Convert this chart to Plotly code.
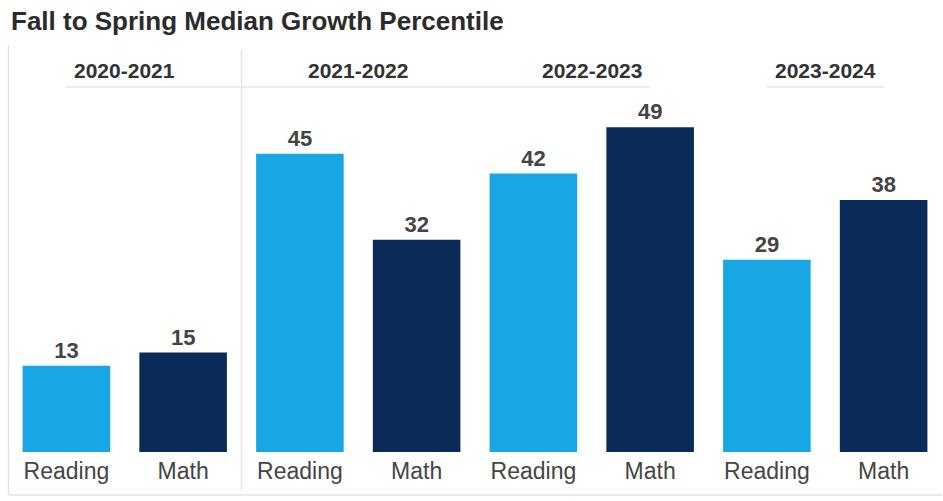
import plotly.graph_objects as go

years = ["2020-2021", "2021-2022", "2022-2023", "2023-2024"]
subjects = ["Reading", "Math"]
values = [13, 15, 45, 32, 42, 49, 29, 38]
colors_by_subject = {"Reading": "#18A6E4", "Math": "#0A2B58"}
title_text = "Fall to Spring Median Growth Percentile"

cats = [s for _ in years for s in subjects]
xs = list(range(len(cats)))
bar_colors = [colors_by_subject[s] for s in cats]

FONT = "Liberation Sans, Arial"

fig = go.Figure()
fig.add_trace(go.Bar(
    x=xs, y=values, marker=dict(color=bar_colors, line=dict(width=0)),
    width=0.75, text=["<b>%d</b>" % v for v in values], textposition="outside",
    textfont=dict(family=FONT, size=22, color="#444444"),
    cliponaxis=False, hoverinfo="skip", showlegend=False,
))

plot_left, plot_right, plot_top, plot_bottom = 7.5, 942.5, 100, 452
pw = plot_right - plot_left
ph = plot_bottom - plot_top

annotations = []
for i, yr in enumerate(years):
    annotations.append(dict(
        x=2 * i + 0.5, y=(plot_bottom - 70) / ph, xref="x", yref="paper", text="<b>%s</b>" % yr,
        showarrow=False, font=dict(family=FONT, size=21, color="#333333"),
        xanchor="center", yanchor="middle"))
annotations.append(dict(
    x=(9 - plot_left) / pw, y=(plot_bottom - 21) / ph, xref="paper", yref="paper",
    text="<b>%s</b>" % title_text,
    showarrow=False, font=dict(family=FONT, size=26, color="#2b2b2b"),
    xanchor="left", yanchor="middle"))

line_col = "#e2e2e2"
shapes = [
    dict(type="line", xref="paper", yref="paper", x0=(8 - plot_left) / pw, x1=(8 - plot_left) / pw,
         y0=(plot_bottom - 45) / ph, y1=(plot_bottom - 495) / ph, line=dict(color=line_col, width=1.5)),
    dict(type="line", xref="paper", yref="paper", x0=(8 - plot_left) / pw, x1=1,
         y0=(plot_bottom - 495) / ph, y1=(plot_bottom - 495) / ph, line=dict(color=line_col, width=1.5)),
    dict(type="line", xref="x", yref="paper", x0=1.5, x1=1.5,
         y0=(plot_bottom - 50) / ph, y1=(plot_bottom - 490) / ph, line=dict(color=line_col, width=1.5)),
    dict(type="line", xref="x", yref="paper", x0=0.0, x1=5.0,
         y0=(plot_bottom - 87) / ph, y1=(plot_bottom - 87) / ph, line=dict(color="#e6e6e6", width=1.5)),
    dict(type="line", xref="x", yref="paper", x0=6.0, x1=7.0,
         y0=(plot_bottom - 87) / ph, y1=(plot_bottom - 87) / ph, line=dict(color="#e6e6e6", width=1.5)),
]

fig.update_layout(
    width=943, height=501,
    margin=dict(l=plot_left, r=943 - plot_right, t=plot_top, b=501 - plot_bottom, pad=0),
    paper_bgcolor="white", plot_bgcolor="white",
    xaxis=dict(range=[-0.5, 7.5], tickvals=xs, ticktext=cats, showgrid=False, zeroline=False,
               showline=False, ticks="", tickfont=dict(family=FONT, size=23, color="#454545"),
               ticklabelstandoff=3, fixedrange=True),
    yaxis=dict(range=[0, ph / 6.63], showgrid=False, zeroline=False, showticklabels=False,
               showline=False, fixedrange=True),
    annotations=annotations, shapes=shapes, bargap=0.25,
)

fig.write_html("out.html")
